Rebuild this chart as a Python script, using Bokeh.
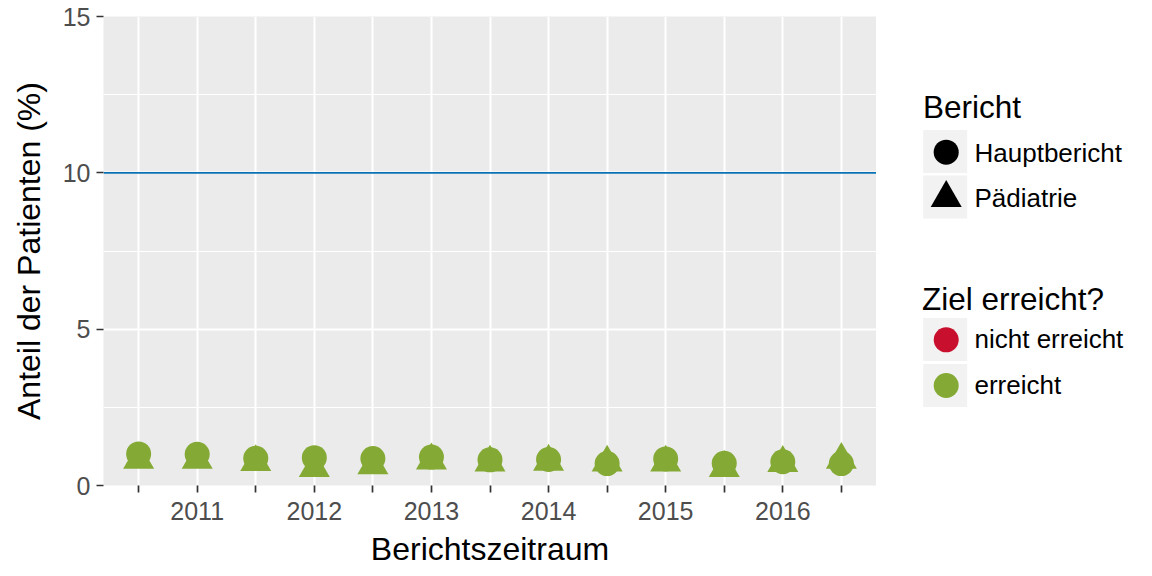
from bokeh.plotting import figure
from bokeh.models import Range1d, FixedTicker, Span, ColumnDataSource
from bokeh.layouts import row
from bokeh.embed import file_html
from bokeh.resources import INLINE
from bokeh.core.properties import value

# ---- data ----
perioden = ["2010-2", "2011-1", "2011-2", "2012-1", "2012-2", "2013-1", "2013-2",
            "2014-1", "2014-2", "2015-1", "2015-2", "2016-1", "2016-2"]
x_labels = ["", "2011", "", "2012", "", "2013", "", "2014", "", "2015", "", "2016", ""]
hauptbericht = [1.01, 1.00, 0.87, 0.89, 0.86, 0.91, 0.82, 0.83, 0.70, 0.85, 0.71, 0.76, 0.70]
paediatrie = [0.82, 0.82, 0.75, 0.56, 0.65, 0.80, 0.73, 0.76, 0.73, 0.73, 0.56, 0.72, 0.82]
ziel = 10
y_ticks = [0, 5, 10, 15]
y_minor = [2.5, 7.5, 12.5]

bericht_labels = ["Hauptbericht", "Pädiatrie"]
bericht_marker = ["circle", "triangle"]
ziel_labels = ["nicht erreicht", "erreicht"]
ziel_farben = ["#C8102E", "#84AA35"]
ziel_blau = "#0A70B4"

FONT = "Liberation Sans"

x = list(range(1, len(perioden) + 1))


def farbe(vals):
    return [ziel_farben[1] if v <= ziel else ziel_farben[0] for v in vals]


src_h = ColumnDataSource(dict(x=x, y=hauptbericht, c=farbe(hauptbericht)))
src_p = ColumnDataSource(dict(x=x, y=paediatrie, c=farbe(paediatrie)))

p = figure(width=876, height=576, output_backend="svg", toolbar_location=None,
           x_range=Range1d(0.4, len(perioden) + 0.6), y_range=Range1d(0, 15),
           min_border_left=103, min_border_right=0, min_border_top=16,
           min_border_bottom=91)
p.background_fill_color = "#EBEBEB"
p.border_fill_color = "white"
p.outline_line_color = None

p.xaxis.ticker = FixedTicker(ticks=x)
p.xaxis.major_label_overrides = {i: lab for i, lab in zip(x, x_labels)}
p.yaxis.ticker = FixedTicker(ticks=y_ticks, minor_ticks=y_minor)

for ax in (p.xaxis[0], p.yaxis[0]):
    ax.axis_line_color = None
    ax.major_tick_line_color = "#333333"
    ax.major_tick_line_width = 1.7
    ax.major_tick_out = 7
    ax.major_tick_in = 0
    ax.minor_tick_line_color = None
    ax.major_label_text_font = FONT
    ax.major_label_text_font_size = "25px"
    ax.major_label_text_color = "#4D4D4D"
    ax.axis_label_text_font = FONT
    ax.axis_label_text_font_size = "32px"
    ax.axis_label_text_font_style = "normal"
    ax.axis_label_text_color = "black"

p.xaxis.axis_label = "Berichtszeitraum"
p.yaxis.axis_label = "Anteil der Patienten (%)"
p.xaxis.major_label_standoff = 9
p.xaxis.axis_label_standoff = 8
p.yaxis.major_label_standoff = 6
p.yaxis.axis_label_standoff = 13

p.xgrid.grid_line_color = "white"
p.xgrid.grid_line_width = 2
p.ygrid.grid_line_color = "white"
p.ygrid.grid_line_width = 2
p.ygrid.minor_grid_line_color = "white"
p.ygrid.minor_grid_line_width = 1

p.add_layout(Span(location=ziel, dimension="width", line_color=ziel_blau, line_width=1.7))

p.scatter("x", "y", source=src_p, marker="triangle", size=31, fill_color="c", line_color=None)
p.scatter("x", "y", source=src_h, marker="circle", size=25, fill_color="c", line_color=None)

# ---- legend panel (local x = page x - 876, local y = page y) ----
leg = figure(width=276, height=576, output_backend="svg", toolbar_location=None,
             x_range=Range1d(0, 276), y_range=Range1d(485, 16),
             x_axis_type=None, y_axis_type=None,
             min_border_left=0, min_border_right=0, min_border_top=16,
             min_border_bottom=91)
leg.outline_line_color = None
leg.grid.visible = False
leg.background_fill_color = "white"
leg.border_fill_color = "white"

key_x = 68.7
sym_x = 69.7
lab_x = 98

leg.text(x=[46.5], y=[106.7], text=["Bericht"], text_font=value(FONT),
         text_font_size="31.5px", text_color="black", text_baseline="middle")
leg.rect(x=[key_x, key_x], y=[151, 196.5], width=44, height=43,
         fill_color="#F2F2F2", line_color=None)
leg.scatter(x=[sym_x], y=[151.7], marker=bericht_marker[0], size=25, fill_color="black", line_color=None)
leg.scatter(x=[sym_x], y=[197.5], marker=bericht_marker[1], size=31, fill_color="black", line_color=None)
leg.text(x=[lab_x, lab_x], y=[152.5, 197.5], text=bericht_labels, text_font=value(FONT),
         text_font_size="26px", text_color="black", text_baseline="middle")

leg.text(x=[45.5], y=[298.3], text=["Ziel erreicht?"], text_font=value(FONT),
         text_font_size="31.5px", text_color="black", text_baseline="middle")
leg.rect(x=[key_x, key_x], y=[339, 385], width=44, height=43,
         fill_color="#F2F2F2", line_color=None)
leg.scatter(x=[sym_x, sym_x], y=[339.3, 385], marker="circle", size=25,
            fill_color=ziel_farben, line_color=None)
leg.text(x=[lab_x, lab_x], y=[338.8, 384], text=ziel_labels, text_font=value(FONT),
         text_font_size="26px", text_color="black", text_baseline="middle")

layout = row(p, leg, spacing=0)
open("out.html", "w").write(file_html(layout, INLINE))
